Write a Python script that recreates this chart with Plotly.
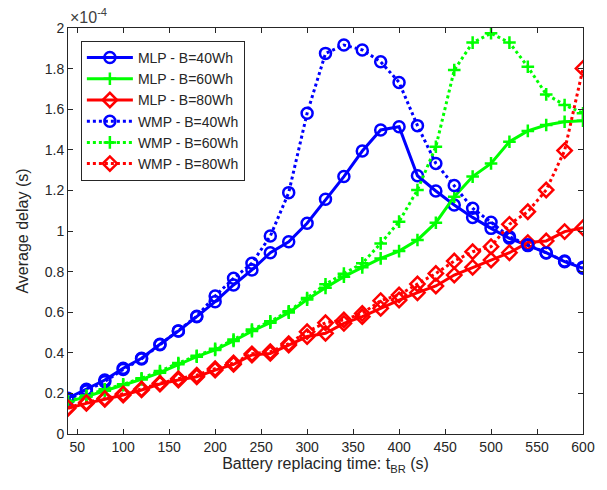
import plotly.graph_objects as go

t_br = list(range(40, 601, 20))

mlp_40 = [0.176, 0.220, 0.266, 0.324, 0.373, 0.442, 0.507, 0.578, 0.652, 0.734, 0.808, 0.893, 0.947, 1.038, 1.156,
          1.268, 1.394, 1.498, 1.514, 1.272, 1.197, 1.128, 1.067, 1.013, 0.964, 0.928, 0.893, 0.849, 0.816]
mlp_60 = [0.159, 0.184, 0.213, 0.241, 0.269, 0.302, 0.343, 0.381, 0.414, 0.458, 0.507, 0.548, 0.598, 0.662, 0.720,
          0.775, 0.821, 0.865, 0.901, 0.956, 1.041, 1.169, 1.268, 1.333, 1.440, 1.493, 1.522, 1.538, 1.543]
mlp_80 = [0.126, 0.151, 0.171, 0.192, 0.217, 0.246, 0.266, 0.282, 0.315, 0.343, 0.389, 0.397, 0.438, 0.480, 0.496,
          0.545, 0.578, 0.619, 0.660, 0.696, 0.729, 0.783, 0.821, 0.857, 0.893, 0.943, 0.951, 0.997, 1.016]
wmp_40 = [0.170, 0.212, 0.258, 0.318, 0.370, 0.440, 0.508, 0.580, 0.680, 0.767, 0.841, 0.975, 1.189, 1.580, 1.875,
          1.916, 1.892, 1.834, 1.732, 1.519, 1.333, 1.224, 1.112, 1.043, 0.972, 0.932, 0.892, 0.852, 0.822]
wmp_60 = [0.160, 0.190, 0.220, 0.245, 0.275, 0.310, 0.350, 0.385, 0.420, 0.465, 0.515, 0.555, 0.605, 0.670, 0.738,
          0.790, 0.841, 0.939, 1.046, 1.202, 1.415, 1.793, 1.928, 1.974, 1.928, 1.809, 1.673, 1.621, 1.580]
wmp_80 = [0.130, 0.155, 0.175, 0.198, 0.222, 0.250, 0.272, 0.290, 0.322, 0.350, 0.395, 0.405, 0.445, 0.504, 0.548,
          0.562, 0.594, 0.657, 0.685, 0.739, 0.791, 0.852, 0.898, 0.923, 1.033, 1.095, 1.202, 1.396, 1.801]

series = [
    ("MLP - B=40Wh", mlp_40, "#0000ff", "solid", "circle-open"),
    ("MLP - B=60Wh", mlp_60, "#00ff00", "solid", "cross-thin-open"),
    ("MLP - B=80Wh", mlp_80, "#ff0000", "solid", "diamond-open"),
    ("WMP - B=40Wh", wmp_40, "#0000ff", "dot", "circle-open"),
    ("WMP - B=60Wh", wmp_60, "#00ff00", "dot", "cross-thin-open"),
    ("WMP - B=80Wh", wmp_80, "#ff0000", "dot", "diamond-open"),
]

FONT = "Liberation Sans, Arial, Helvetica, sans-serif"

fig = go.Figure()
for name, ys, color, dash, sym in series:
    fig.add_trace(go.Scatter(
        x=t_br, y=ys, name=name, mode="lines+markers",
        line=dict(color=color, width=3, dash=dash),
        marker=dict(symbol=sym, size=11 if sym != "cross-thin-open" else 9,
                    color=color, line=dict(color=color, width=2.5)),
    ))

axis_common = dict(
    showline=True, linecolor="#262626", linewidth=1, mirror="ticks",
    ticks="inside", ticklen=5, tickcolor="#262626", showgrid=False, zeroline=False,
    tickfont=dict(family=FONT, size=14, color="#262626"),
)

fig.update_layout(
    width=607, height=490,
    margin=dict(l=68, r=20, t=28, b=56),
    paper_bgcolor="white", plot_bgcolor="white",
    font=dict(family=FONT, size=14, color="#262626"),
    xaxis=dict(range=[40, 600], tickvals=list(range(50, 601, 50)),
               title=dict(text="Battery replacing time: t<sub>BR</sub> (s)", font=dict(size=16), standoff=4),
               **axis_common),
    yaxis=dict(range=[0, 2], dtick=0.2, tick0=0,
               title=dict(text="Average delay (s)", font=dict(size=16), standoff=12),
               **axis_common),
    legend=dict(x=0.025, y=0.968, xanchor="left", yanchor="top",
                bordercolor="#262626", borderwidth=1, bgcolor="white",
                font=dict(family=FONT, size=14, color="#262626"), tracegroupgap=0,
                itemwidth=46),
    showlegend=True,
    annotations=[dict(text="×10<sup>-4</sup>", xref="paper", yref="paper", x=0, y=1,
                      xanchor="left", yanchor="bottom", showarrow=False, yshift=0,
                      font=dict(family=FONT, size=16, color="#404040"))],
)

fig.write_html("out.html")
